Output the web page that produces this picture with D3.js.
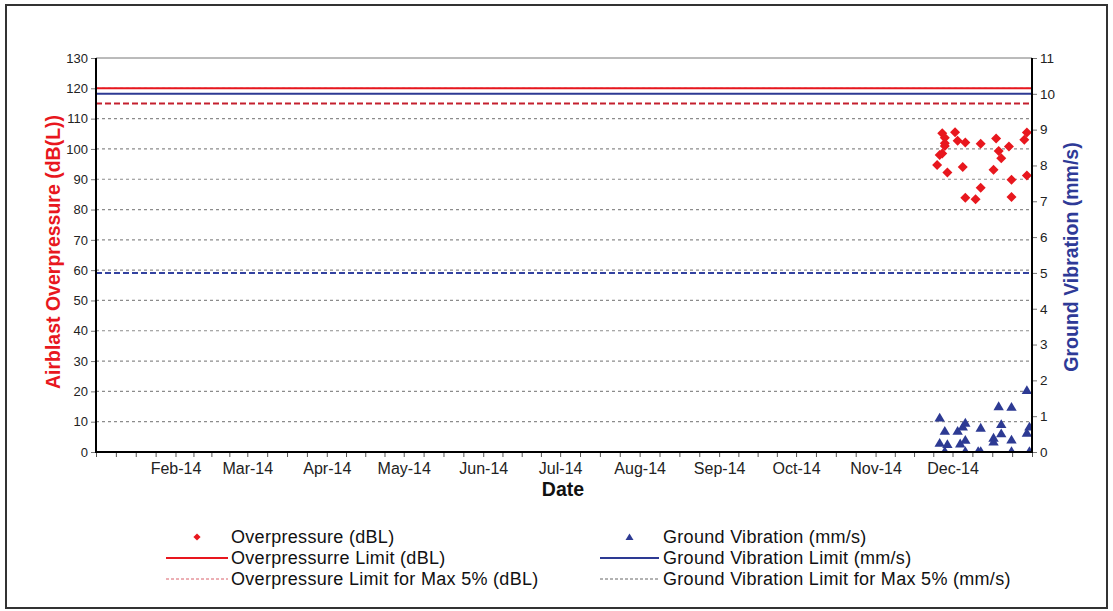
<!DOCTYPE html>
<html>
<head>
<meta charset="utf-8">
<script src="https://cdn.jsdelivr.net/npm/d3@7"></script>
<style>
  html, body { margin: 0; padding: 0; background: #fff; }
  svg { display: block; font-family: "Liberation Sans", Arial, sans-serif; }
</style>
</head>
<body>
<svg id="chart" width="1113" height="611"></svg>
<script>
// Blast monitoring results for 2014: airblast overpressure (left axis, dBL)
// and ground vibration (right axis, mm/s), with regulatory limits.
const opDates = ["2014-11-25","2014-11-26","2014-11-27","2014-11-27","2014-11-28","2014-11-28","2014-11-28","2014-11-29",
  "2014-12-02","2014-12-03","2014-12-05","2014-12-06","2014-12-06","2014-12-10","2014-12-12","2014-12-12",
  "2014-12-17","2014-12-18","2014-12-19","2014-12-20","2014-12-23","2014-12-24","2014-12-24","2014-12-29","2014-12-30","2014-12-30"];
const opValues = [94.7, 98.0, 98.5, 105.2, 103.7, 101.9, 101.0, 92.2,
  105.5, 102.7, 94.0, 102.1, 83.9, 83.4, 87.2, 101.7,
  93.1, 103.4, 99.3, 96.9, 100.8, 89.8, 84.1, 103.0, 105.4, 91.2];

const gvDates = ["2014-11-26","2014-11-26","2014-11-28","2014-11-28","2014-11-29","2014-12-03","2014-12-04","2014-12-05",
  "2014-12-06","2014-12-06","2014-12-06","2014-12-11","2014-12-12","2014-12-12","2014-12-17","2014-12-17",
  "2014-12-19","2014-12-20","2014-12-20","2014-12-24","2014-12-24","2014-12-24","2014-12-30","2014-12-30","2014-12-31","2014-12-31"];
const gvValues = [0.26, 0.96, 0.03, 0.59, 0.22, 0.59, 0.24, 0.71,
  0.82, 0.34, 0.03, 0.03, 0.03, 0.68, 0.40, 0.29,
  1.28, 0.78, 0.52, 1.26, 0.35, 0.03, 1.73, 0.54, 0.71, 0.03];

// Limits
const opLimit = 120;        // dBL
const opLimit5 = 115;       // dBL, max 5% of blasts
const gvLimit = 10;         // mm/s
const gvLimit5 = 5;         // mm/s, max 5% of blasts

// Axis definitions
const dateDomain = ["2014-01-01", "2015-01-01"];
const leftTicks = d3.range(0, 131, 10);
const rightTicks = d3.range(0, 12, 1);
const gridValues = d3.range(10, 121, 10);
const monthLabelFormat = "%b-%y";

const legendItems = [
  { label: "Overpressure (dBL)", kind: "diamond" },
  { label: "Overpressurre Limit (dBL)", kind: "redSolid" },
  { label: "Overpressure Limit for Max 5% (dBL)", kind: "redDash" },
  { label: "Ground Vibration (mm/s)", kind: "triangle" },
  { label: "Ground Vibration Limit (mm/s)", kind: "blueSolid" },
  { label: "Ground Vibration Limit for Max 5% (mm/s)", kind: "grayDash" }
];

const RED = "#e8171e";
const BLUE = "#2d3a93";
const FONT = "'Liberation Sans', Arial, sans-serif";

const parse = d3.utcParse("%Y-%m-%d");
const svg = d3.select("#chart");

const plot = { left: 96, right: 1032, top: 58, bottom: 452 };

const x = d3.scaleUtc().domain(dateDomain.map(parse)).range([plot.left, plot.right]);
const yL = d3.scaleLinear().domain([0, 130]).range([plot.bottom, plot.top]);
const yR = d3.scaleLinear().domain([0, 11]).range([plot.bottom, plot.top]);

// Outer frame
svg.append("rect")
  .attr("x", 6).attr("y", 5).attr("width", 1101).attr("height", 603)
  .attr("fill", "none").attr("stroke", "#333").attr("stroke-width", 2);

svg.append("defs").append("clipPath").attr("id", "plotClip")
  .append("rect")
  .attr("x", plot.left).attr("y", plot.top)
  .attr("width", plot.right - plot.left).attr("height", plot.bottom - plot.top);

// Gridlines
svg.append("g").selectAll("line").data(gridValues).join("line")
  .attr("x1", plot.left).attr("x2", plot.right)
  .attr("y1", d => yL(d)).attr("y2", d => yL(d))
  .attr("stroke", "#8c8c8c").attr("stroke-width", 1.2)
  .attr("stroke-dasharray", "3,3");

// Top border of plot area
svg.append("line")
  .attr("x1", plot.left).attr("x2", plot.right)
  .attr("y1", plot.top).attr("y2", plot.top)
  .attr("stroke", "#777").attr("stroke-width", 1);

// Limit lines
const limits = svg.append("g");
limits.append("line")
  .attr("x1", plot.left).attr("x2", plot.right)
  .attr("y1", yR(gvLimit5)).attr("y2", yR(gvLimit5))
  .attr("stroke", "#3342a0").attr("stroke-width", 2).attr("stroke-dasharray", "6,3");
limits.append("line")
  .attr("x1", plot.left).attr("x2", plot.right)
  .attr("y1", yL(opLimit5)).attr("y2", yL(opLimit5))
  .attr("stroke", "#c4202e").attr("stroke-width", 2).attr("stroke-dasharray", "6,3");
limits.append("line")
  .attr("x1", plot.left).attr("x2", plot.right)
  .attr("y1", yR(gvLimit)).attr("y2", yR(gvLimit))
  .attr("stroke", BLUE).attr("stroke-width", 2);
limits.append("line")
  .attr("x1", plot.left).attr("x2", plot.right)
  .attr("y1", yL(opLimit)).attr("y2", yL(opLimit))
  .attr("stroke", RED).attr("stroke-width", 2);

// Marker shapes
const diamondPath = "M0,-5L5,0L0,5L-5,0Z";
const trianglePath = "M0,-4.8L5.2,4L-5.2,4Z";

const opData = opDates.map((d, i) => ({ date: parse(d), value: opValues[i] }));
const gvData = gvDates.map((d, i) => ({ date: parse(d), value: gvValues[i] }));

const marks = svg.append("g").attr("clip-path", "url(#plotClip)");
marks.append("g").selectAll("path").data(gvData).join("path")
  .attr("d", trianglePath)
  .attr("transform", d => `translate(${x(d.date)},${yR(d.value)})`)
  .attr("fill", BLUE);
marks.append("g").selectAll("path").data(opData).join("path")
  .attr("d", diamondPath)
  .attr("transform", d => `translate(${x(d.date)},${yL(d.value)})`)
  .attr("fill", RED);

// X axis: labelled month ticks plus quarter-month minor ticks
const months = d3.utcMonth.range(parse(dateDomain[0]), parse(dateDomain[1]));
const minorTicks = [];
months.forEach(m => {
  const next = d3.utcMonth.offset(m, 1);
  const span = next - m;
  for (let k = 0; k < 4; k++) minorTicks.push(new Date(+m + span * k / 4));
});
minorTicks.push(parse(dateDomain[1]));

const xAxis = d3.axisBottom(x)
  .tickValues(minorTicks)
  .tickSize(5)
  .tickFormat(d => (d.getUTCDate() === 1 && d.getUTCHours() === 0 && d.getUTCMonth() !== 0 && +d !== +x.domain()[1])
    ? d3.utcFormat(monthLabelFormat)(d) : "");
const gx = svg.append("g").attr("transform", `translate(0,${plot.bottom})`).call(xAxis);
gx.select(".domain").remove();
gx.selectAll(".tick line").attr("stroke", "#555").attr("stroke-width", 1);
gx.selectAll(".tick text")
  .attr("y", 11).attr("dy", "0.71em")
  .attr("fill", "#222").attr("font-size", 16)
  .attr("font-family", FONT);

// Left axis
const gl = svg.append("g").attr("transform", `translate(${plot.left},0)`)
  .call(d3.axisLeft(yL).tickValues(leftTicks).tickSize(5).tickPadding(3));
gl.select(".domain").remove();
gl.selectAll(".tick line").attr("stroke", "#777");
gl.selectAll(".tick text").attr("fill", "#222").attr("font-size", 13)
  .attr("font-family", FONT);

// Right axis
const gr = svg.append("g").attr("transform", `translate(${plot.right},0)`)
  .call(d3.axisRight(yR).tickValues(rightTicks).tickSize(5).tickPadding(3));
gr.select(".domain").remove();
gr.selectAll(".tick line").attr("stroke", "#777");
gr.selectAll(".tick text").attr("fill", "#222").attr("font-size", 13.5)
  .attr("font-family", FONT);

// Axis lines
svg.append("line").attr("x1", plot.left).attr("x2", plot.left)
  .attr("y1", plot.top).attr("y2", plot.bottom + 1)
  .attr("stroke", "#000").attr("stroke-width", 2);
svg.append("line").attr("x1", plot.right).attr("x2", plot.right)
  .attr("y1", plot.top).attr("y2", plot.bottom + 1)
  .attr("stroke", "#000").attr("stroke-width", 2);
svg.append("line").attr("x1", plot.left - 1).attr("x2", plot.right + 1)
  .attr("y1", plot.bottom).attr("y2", plot.bottom)
  .attr("stroke", "#000").attr("stroke-width", 2);

// Axis titles
svg.append("text")
  .attr("transform", `translate(53,252) rotate(-90)`)
  .attr("text-anchor", "middle").attr("dominant-baseline", "central")
  .attr("font-size", 19.5).attr("font-weight", "bold").attr("fill", RED)
  .text("Airblast Overpressure (dB(L))");
svg.append("text")
  .attr("transform", `translate(1071,257) rotate(-90)`)
  .attr("text-anchor", "middle").attr("dominant-baseline", "central")
  .attr("font-size", 19.5).attr("font-weight", "bold").attr("fill", "#2e3a97")
  .text("Ground Vibration (mm/s)");
svg.append("text")
  .attr("x", 563).attr("y", 496)
  .attr("text-anchor", "middle")
  .attr("font-size", 19.5).attr("font-weight", "bold").attr("fill", "#111")
  .text("Date");

// Legend
const legendCols = [{ sx: 166, ex: 228, tx: 231 }, { sx: 600, ex: 659, tx: 663 }];
const legendRows = [537, 558, 579];
const lg = svg.append("g");
legendItems.forEach((item, i) => {
  const col = legendCols[Math.floor(i / 3)];
  const cy = legendRows[i % 3];
  const g = lg.append("g");
  const mid = col.sx + (col.ex - col.sx) / 2;
  if (item.kind === "diamond") {
    g.append("path").attr("d", "M0,-3.6L3.6,0L0,3.6L-3.6,0Z")
      .attr("transform", `translate(${mid},${cy})`).attr("fill", RED);
  } else if (item.kind === "triangle") {
    g.append("path").attr("d", "M0,-3.6L4,3L-4,3Z")
      .attr("transform", `translate(${mid},${cy})`).attr("fill", BLUE);
  } else {
    const styles = {
      redSolid: { stroke: RED, width: 2, dash: null },
      redDash: { stroke: "#d9606a", width: 1, dash: "3,2" },
      blueSolid: { stroke: BLUE, width: 2, dash: null },
      grayDash: { stroke: "#666", width: 1, dash: "3,2" }
    }[item.kind];
    g.append("line")
      .attr("x1", col.sx).attr("x2", col.ex).attr("y1", cy).attr("y2", cy)
      .attr("stroke", styles.stroke).attr("stroke-width", styles.width)
      .attr("stroke-dasharray", styles.dash);
  }
  g.append("text")
    .attr("x", col.tx).attr("y", cy).attr("dy", "0.35em")
    .attr("font-size", 18).attr("letter-spacing", 0.3).attr("fill", "#111")
    .text(item.label);
});
</script>
</body>
</html>
